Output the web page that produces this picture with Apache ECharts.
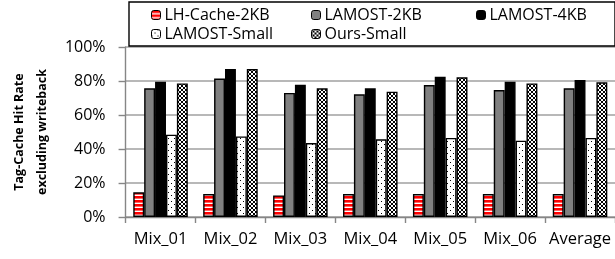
<!DOCTYPE html>
<html>
<head>
<meta charset="utf-8">
<script src="https://cdn.jsdelivr.net/npm/echarts@6/dist/echarts.min.js"></script>
<style>
  html, body { margin: 0; padding: 0; background: #fff; }
  #chart { width: 615px; height: 259px; }
</style>
</head>
<body>
<div id="chart"></div>
<script>
var categories = ['Mix_01', 'Mix_02', 'Mix_03', 'Mix_04', 'Mix_05', 'Mix_06', 'Average'];
var lhCache2KB  = [14.5, 13.5, 12.7, 13.5, 13.5, 13.5, 13.5];
var lamost2KB   = [75.7, 81.4, 73.0, 72.2, 77.6, 74.7, 75.7];
var lamost4KB   = [79.6, 87.0, 77.8, 75.7, 82.5, 79.6, 80.6];
var lamostSmall = [48.4, 47.4, 43.5, 45.7, 46.5, 44.9, 46.5];
var oursSmall   = [78.6, 87.0, 75.7, 73.7, 82.2, 78.6, 79.2];
var yTicks = [0, 20, 40, 60, 80, 100];

var FONT = 'Open Sans';

// fill patterns
function makePattern(w, h, draw) {
  var c = document.createElement('canvas');
  c.width = w; c.height = h;
  var ctx = c.getContext('2d');
  ctx.fillStyle = '#fff'; ctx.fillRect(0, 0, w, h);
  draw(ctx);
  return { image: c, repeat: 'repeat' };
}
var stripePat = makePattern(4, 4, function (ctx) {
  ctx.fillStyle = '#ff0000'; ctx.fillRect(0, 0, 4, 2.6);
});
var dotPat = makePattern(6, 6, function (ctx) {
  ctx.fillStyle = '#000';
  ctx.fillRect(0, 0, 1, 1);
  ctx.fillRect(3, 3, 1, 1);
});
var crossPat = makePattern(4, 4, function (ctx) {
  ctx.fillStyle = '#000';
  ctx.fillRect(0, 0, 1, 1); ctx.fillRect(3, 0, 1, 1);
  ctx.fillRect(1, 1, 2, 2);
  ctx.fillRect(0, 3, 1, 1); ctx.fillRect(3, 3, 1, 1);
});

var chart = echarts.init(document.getElementById('chart'));

function barSeries(name, data, fill) {
  return {
    name: name,
    type: 'bar',
    data: data,
    barGap: '0%',
    barCategoryGap: '22%',
    itemStyle: { color: fill, borderColor: '#000', borderWidth: 1.4 },
    emphasis: { disabled: true }
  };
}

function legendCol(left, names) {
  return {
    orient: 'vertical',
    left: left, top: 7,
    padding: 0,
    itemWidth: 9, itemHeight: 9,
    itemGap: 3,
    itemStyle: { borderColor: '#000', borderWidth: 1 },
    textStyle: { fontFamily: FONT, fontSize: 16, lineHeight: 16, color: '#000', padding: [0, 0, 0, -1] },
    selectedMode: false,
    data: names
  };
}

chart.setOption({
  animation: false,
  backgroundColor: '#fff',
  grid: { left: 122, right: -4, top: 47, bottom: 42 },
  legend: [
    legendCol(151, ['LH-Cache-2KB', 'LAMOST-Small']),
    legendCol(311, ['LAMOST-2KB', 'Ours-Small']),
    legendCol(476, ['LAMOST-4KB'])
  ],
  graphic: [{
    type: 'rect',
    shape: { x: 129, y: 2, width: 486, height: 44 },
    style: { fill: 'none', stroke: '#000', lineWidth: 1.4 },
    z: 10
  }],
  xAxis: {
    type: 'category',
    data: categories,
    axisLine: { lineStyle: { color: '#868686', width: 1.4 } },
    axisTick: { show: true, length: 6, lineStyle: { color: '#868686', width: 1.4 } },
    axisLabel: { interval: 0, fontFamily: FONT, fontSize: 16.5, color: '#000', margin: 14 }
  },
  yAxis: {
    type: 'value',
    min: yTicks[0], max: yTicks[yTicks.length - 1], interval: 20,
    name: 'Tag-Cache Hit Rate\nexcluding writeback',
    nameLocation: 'middle',
    nameGap: 70,
    nameTextStyle: { fontFamily: FONT, fontSize: 12.5, fontWeight: 'bold', color: '#000', lineHeight: 23 },
    axisLine: { show: true, lineStyle: { color: '#868686', width: 1.4 } },
    axisTick: { show: true, length: 7, lineStyle: { color: '#868686', width: 1.4 } },
    axisLabel: { fontFamily: FONT, fontSize: 16, color: '#000', margin: 20, formatter: '{value}%' },
    splitLine: { lineStyle: { color: '#a0a0a0', width: 1.6 } }
  },
  series: [
    barSeries('LH-Cache-2KB', lhCache2KB, stripePat),
    barSeries('LAMOST-2KB', lamost2KB, '#808080'),
    barSeries('LAMOST-4KB', lamost4KB, '#000'),
    barSeries('LAMOST-Small', lamostSmall, dotPat),
    barSeries('Ours-Small', oursSmall, crossPat)
  ]
});
</script>
</body>
</html>
